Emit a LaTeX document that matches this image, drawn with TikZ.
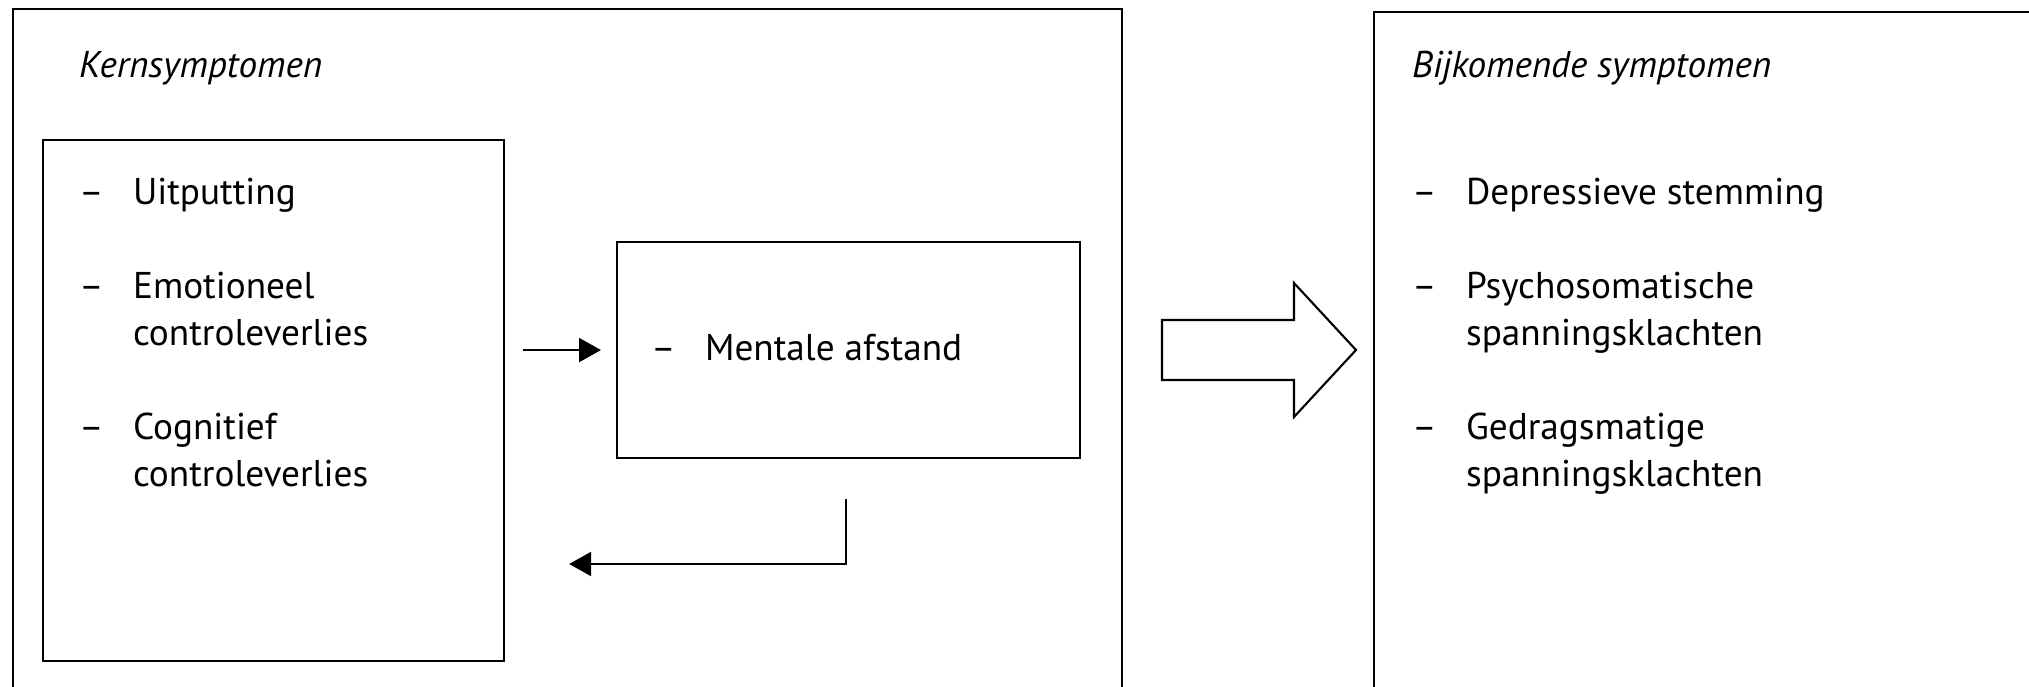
\documentclass[tikz,border=0pt]{standalone}
\usepackage{fontspec}
\setmainfont{PT Sans}
\usetikzlibrary{arrows.meta}
\newcommand{\streep}{\makebox[0.54cm][l]{--}}
\newcommand{\inspring}{\hspace*{0.54cm}}
\begin{document}
\begin{tikzpicture}[>={Triangle[length=2.2mm,width=2.4mm]},line width=0.6pt,
	  every node/.style={font=\fontsize{10.6}{13.3}\selectfont,inner sep=0pt},
	  item/.style={anchor=base west,align=left},
	  kop/.style={anchor=base west,font=\fontsize{10.6}{13.3}\selectfont\itshape},
	  kader/.style={draw,anchor=north west}]
	  \useasboundingbox (0,0) rectangle (20.29,-6.87);
	  % open frames, cut off by the page
	  \draw (0.13,-7.0) |- (11.22,-0.09) -- (11.22,-7.0);
	  \draw (13.74,-7.0) |- (20.5,-0.12);
	  \node[kop] (kerntitel) at (0.78,-0.78) {Kernsymptomen};
	  \node[kop] (bijtitel) at (14.11,-0.78) {Bijkomende symptomen};
	  % inner boxes
	  \node[kader,minimum width=4.61cm,minimum height=5.21cm] (kern) at (0.42,-1.39) {};
	  \node[kader,minimum width=4.63cm,minimum height=2.16cm] (afstand) at (6.16,-2.41) {};
	  % two-line items sit on the baseline of their last line
	  \node[item] (uitputting) at (0.78,-2.04) {\streep Uitputting};
	  \node[item] (emotioneel) at (0.78,-3.45) {\streep Emotioneel\\\inspring controleverlies};
	  \node[item] (cognitief) at (0.78,-4.86) {\streep Cognitief\\\inspring controleverlies};
	  \node[item] (mentaal) at (6.50,-3.60) {\streep Mentale afstand};
	  \node[item] (depressief) at (14.11,-2.04) {\streep Depressieve stemming};
	  \node[item] (psycho) at (14.11,-3.45) {\streep Psychosomatische\\\inspring spanningsklachten};
	  \node[item] (gedrag) at (14.11,-4.86) {\streep Gedragsmatige\\\inspring spanningsklachten};
	  % arrows between the boxes
	  \coordinate (heenA) at ([xshift=1.8mm]kern.east |- afstand.west);
	  \coordinate (terugA) at ([xshift=-0.3mm,yshift=-4mm]afstand.south);
	  \coordinate (terugB) at ([xshift=6.4mm]kern.east |- 0,-5.64);
	  \draw[->] (heenA) -- ([xshift=-1.5mm]afstand.west);
	  \draw[->] (terugA) |- (terugB);
	  % hollow block arrow
	  \draw (11.62,-3.20) -- (12.94,-3.20) -- (12.94,-2.83) -- (13.56,-3.50)
	    -- (12.94,-4.17) -- (12.94,-3.80) -- (11.62,-3.80) -- cycle;
	\end{tikzpicture}
\end{document}
